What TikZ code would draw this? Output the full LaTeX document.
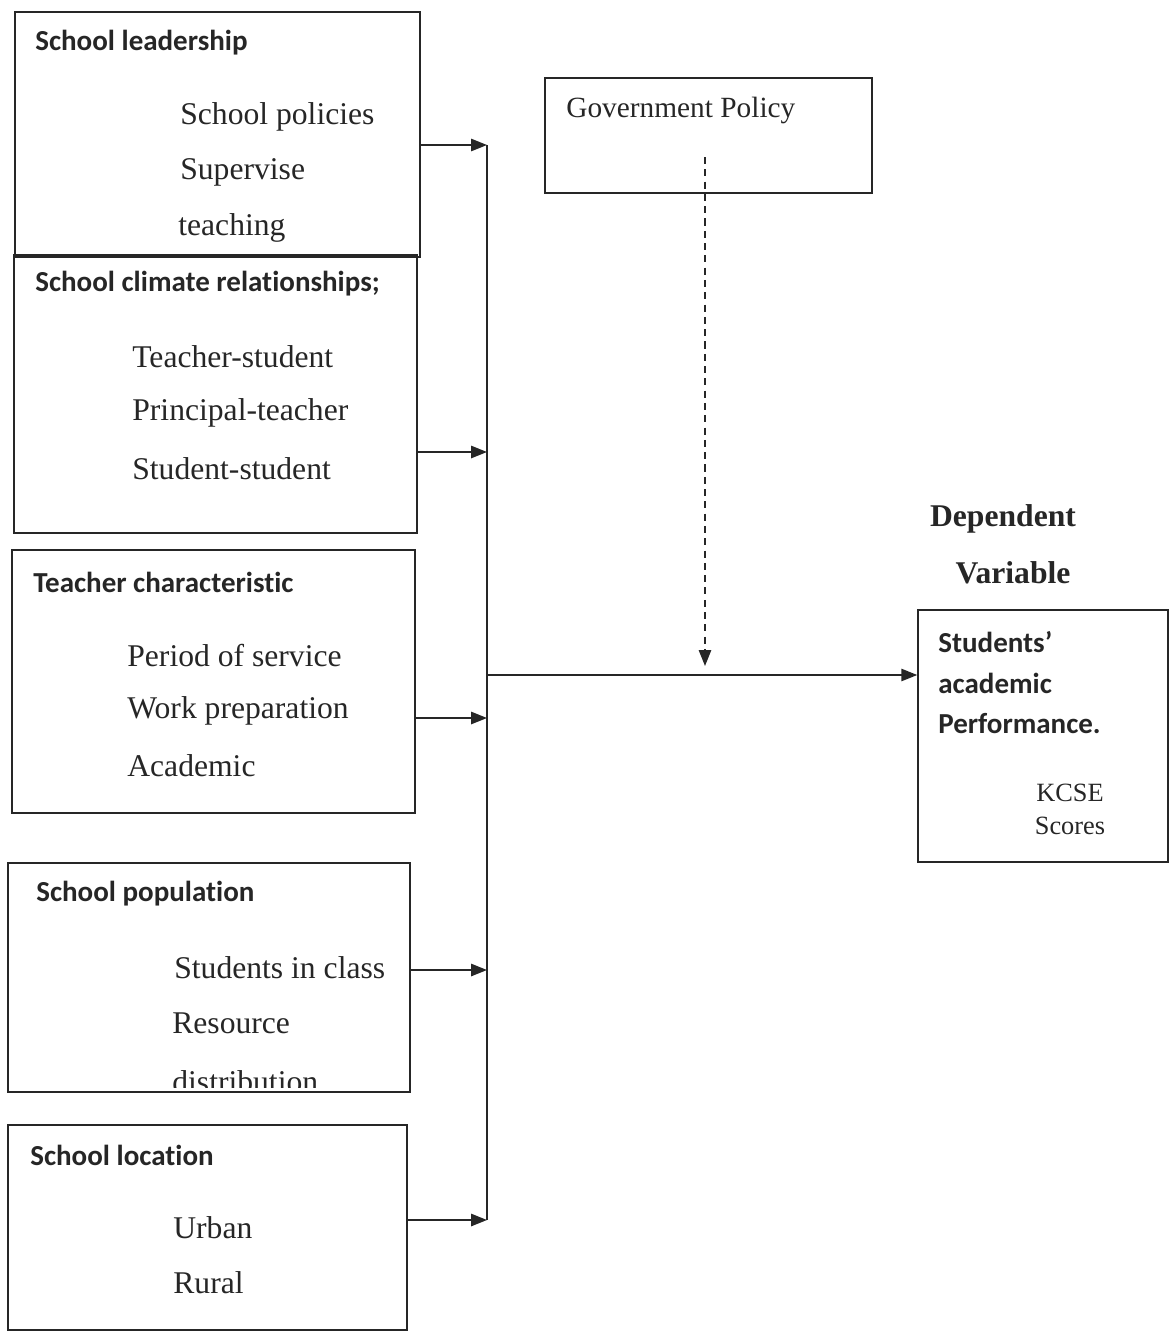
\documentclass[tikz,border=0pt]{standalone}
\usepackage{fontspec}
\setmainfont{Liberation Serif}
\newfontfamily\headfont[Ligatures=NoCommon]{Carlito}
\usetikzlibrary{arrows.meta}

\begin{document}
\begin{tikzpicture}[
    x=0.02cm, y=-0.02cm,
    every node/.style={text=black!85},
    box/.style={draw=black!85, line width=0.9pt, inner sep=0pt},
    head/.style={anchor=west, inner sep=0pt, font=\headfont\bfseries\fontsize{16.5}{20}\selectfont},
    item/.style={anchor=west, inner sep=0pt, font=\fontsize{18}{22}\selectfont},
    arrow/.style={-{Triangle[length=9pt, width=7pt]}, line width=0.9pt, draw=black!85, fill=black!85},
    dasharrow/.style={-{Triangle[length=9pt, width=7pt]}, line width=0.8pt, dashed, dash pattern=on 4pt off 3pt, draw=black!85}
]
    \useasboundingbox (0,0) rectangle (1170,1336);

    % Independent variables
    \node[box, minimum width=8.1cm, minimum height=4.9cm] (lead) at (217.5,134.5) {};
    \node[box, minimum width=8.06cm, minimum height=5.56cm] (climate) at (215.5,394) {};
    \node[box, minimum width=8.06cm, minimum height=5.26cm] (teacher) at (213.5,681.5) {};
    \node[box, minimum width=8.04cm, minimum height=4.58cm] (popn) at (209,977.5) {};
    \node[box, minimum width=7.98cm, minimum height=4.1cm] (location) at (207.5,1227.5) {};

    \node[head] (leadh) at (35,43) {School leadership};
    \node[item] (lead1) at (180,117) {School policies};
    \node[item] (lead2) at (180,172) {Supervise};
    \node[item] (lead3) at (178,228) {teaching};

    \node[head] (climateh) at (35,284) {School climate relationships;};
    \node[item] (climate1) at (132,357) {Teacher-student};
    \node[item] (climate2) at (132,413) {Principal-teacher};
    \node[item] (climate3) at (132,469) {Student-student};

    \node[head] (teacherh) at (33,582) {Teacher characteristic};
    \node[item] (teacher1) at (127,656) {Period of service};
    \node[item] (teacher2) at (127,711) {Work preparation};
    \node[item] (teacher3) at (127,766) {Academic};

    \node[head] (popnh) at (36,894) {School population};
    \node[item] (popn1) at (174,968) {Students in class};
    \node[item] (popn2) at (172,1023) {Resource};
    \begin{scope}
        \clip (popn.north west) rectangle ([yshift=0.1cm]popn.south east);
        \node[item] (popn3) at (172,1082) {distribution};
    \end{scope}

    \node[head] (locationh) at (30,1155) {School location};
    \node[item] (location1) at (173,1228) {Urban};
    \node[item] (location2) at (173,1283) {Rural};

    % Intervening variable
    \node[box, minimum width=6.54cm, minimum height=2.3cm] (gov) at (708.5,135.5) {};
    \node[anchor=west, inner sep=0pt, font=\fontsize{16.7}{20}\selectfont] (govt) at (566,110) {Government Policy};

    % Dependent variable
    \node[font=\bfseries\fontsize{18}{22}\selectfont, inner sep=0pt] (dep1) at (1003,519) {Dependent};
    \node[font=\bfseries\fontsize{18}{22}\selectfont, inner sep=0pt] (dep2) at (1013,573) {Variable};
    \node[box, minimum width=5cm, minimum height=5.04cm] (perf) at (1043,736) {};
    \node[head] (perf1) at (938,642) {Students’};
    \node[head] (perf2) at (938,683) {academic};
    \node[head] (perf3) at (938,724) {Performance.};
    \node[inner sep=0pt, font=\fontsize{15}{18}\selectfont] (perf4) at (1070,793) {KCSE};
    \node[inner sep=0pt, font=\fontsize{15}{18}\selectfont] (perf5) at (1070,826) {Scores};

    % Joints on the collecting line
    \coordinate (j1) at (487,145);
    \coordinate (j2) at (487,452);
    \coordinate (j3) at (487,718);
    \coordinate (j4) at (487,970);
    \coordinate (j5) at (487,1220);
    \coordinate (mid) at (487,675);
    \coordinate (gp) at (705,157);
    \coordinate (gq) at (705,666);

    % Connections
    \draw[line width=0.9pt, black!85] (j1) -- (j5);
    \draw[arrow] (lead.east |- j1) -- (j1);
    \draw[arrow] (climate.east |- j2) -- (j2);
    \draw[arrow] (teacher.east |- j3) -- (j3);
    \draw[arrow] (popn.east |- j4) -- (j4);
    \draw[arrow] (location.east |- j5) -- (j5);
    \draw[arrow] (mid) -- (perf.west |- mid);
    \draw[dasharrow] (gp) -- (gq);
\end{tikzpicture}
\end{document}
